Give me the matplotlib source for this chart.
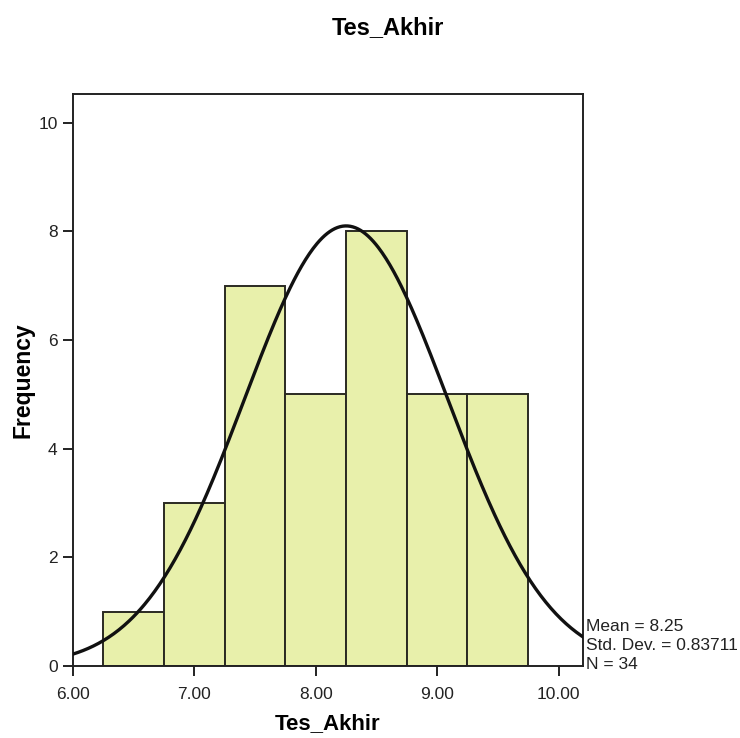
import numpy as np
import matplotlib
matplotlib.use('Agg')
import matplotlib.pyplot as plt

plt.rcParams['font.family'] = ['Liberation Sans', 'DejaVu Sans']

# histogram of the final test scores
bin_edges = [6.25, 6.75, 7.25, 7.75, 8.25, 8.75, 9.25, 9.75]
counts = [1, 3, 7, 5, 8, 5, 5]
mean = 8.25
std = 0.83711
n = 34

xticks = [6.0, 7.0, 8.0, 9.0, 10.0]
xticklabels = ['6.00', '7.00', '8.00', '9.00', '10.00']
yticks = [0, 2, 4, 6, 8, 10]

fig = plt.figure(figsize=(7.4, 7.38), dpi=100)
ax = fig.add_axes([0.0986, 0.0976, 0.689, 0.775])

lefts = np.array(bin_edges[:-1])
widths = np.diff(bin_edges)
ax.bar(lefts, counts, width=widths, align='edge', color='#e8f0ab',
       edgecolor='#2a2a22', linewidth=1.4, zorder=2)

# normal curve scaled to the counts
binw = widths[0]
xs = np.linspace(6.0, 10.2, 400)
ys = n * binw / (std * np.sqrt(2 * np.pi)) * np.exp(-0.5 * ((xs - mean) / std) ** 2)
ax.plot(xs, ys, color='#111111', linewidth=2.4, zorder=3)

ax.set_xlim(6.0, 10.2)
ax.set_ylim(0, 10.53)
ax.set_xticks(xticks)
ax.set_xticklabels(xticklabels)
ax.set_yticks(yticks)
ax.tick_params(direction='out', length=7, width=1.4, labelsize=12.5,
               colors='#222222')
ax.tick_params(axis='x', pad=8)
ax.tick_params(axis='y', pad=4)
for s in ax.spines.values():
    s.set_linewidth(1.4)
    s.set_color('#222222')

ax.set_xlabel('Tes_Akhir', fontsize=16, fontweight='bold', labelpad=8)
ax.set_ylabel('Frequency', fontsize=16.5, fontweight='bold', labelpad=3)
fig.text(0.524, 0.962, 'Tes_Akhir', fontsize=17, fontweight='bold',
         ha='center', va='center')

stats = 'Mean = %.2f\nStd. Dev. = %.5f\nN = %d' % (mean, std, n)
ax.text(1.006, -0.01, stats, transform=ax.transAxes, fontsize=12.5,
        ha='left', va='bottom', color='#222222', linespacing=1.32)

fig.savefig('out.png', dpi=100)
